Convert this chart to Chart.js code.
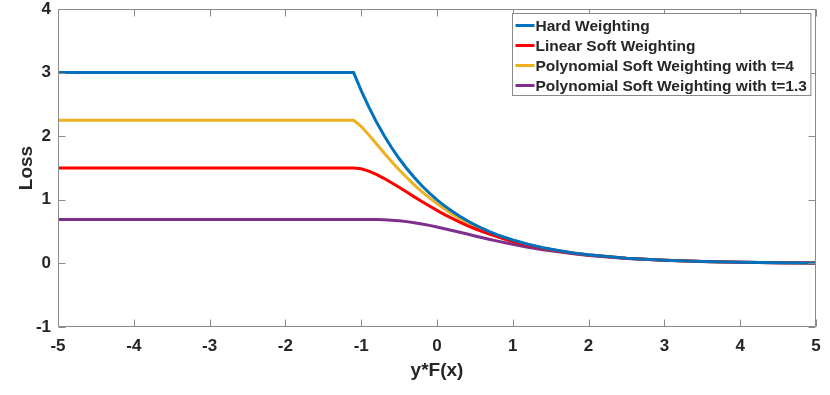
<!DOCTYPE html>
<html>
<head>
<meta charset="utf-8">
<script src="https://cdn.jsdelivr.net/npm/chart.js@4/dist/chart.umd.min.js"></script>
<style>
  html, body { margin: 0; padding: 0; background: #fff; }
</style>
</head>
<body>
<canvas id="chart" width="830" height="395"></canvas>
<script>
// values, x = y*F(x)
const xs = [-5, -1.1, -1.0, -0.9, -0.8, -0.7, -0.6, -0.5, -0.4, -0.3, -0.2, -0.1, 0,
  0.1, 0.2, 0.3, 0.4, 0.5, 0.6, 0.7, 0.8, 0.9, 1.0, 1.2, 1.4, 1.6, 1.8, 2.0, 2.5, 3, 3.5, 4, 4.5, 5]

const hard = [3, 3, 2.718, 2.460, 2.226, 2.014, 1.822, 1.649, 1.492, 1.350, 1.221, 1.105, 1.0,
  0.905, 0.819, 0.741, 0.670, 0.607, 0.549, 0.497, 0.449, 0.407, 0.368, 0.301, 0.247, 0.202, 0.165, 0.135, 0.082, 0.050, 0.030, 0.018, 0.011, 0.007]

const linear = [1.5, 1.5, 1.487, 1.451, 1.400, 1.338, 1.269, 1.196, 1.121, 1.046, 0.973, 0.902, 0.833,
  0.768, 0.707, 0.649, 0.595, 0.545, 0.499, 0.456, 0.416, 0.379, 0.345, 0.286, 0.237, 0.195, 0.161, 0.132, 0.081, 0.049, 0.030, 0.018, 0.011, 0.007]

const poly4 = [2.25, 2.25, 2.154, 2.021, 1.880, 1.740, 1.603, 1.473, 1.351, 1.236, 1.129, 1.031, 0.940,
  0.856, 0.779, 0.708, 0.644, 0.585, 0.531, 0.482, 0.438, 0.397, 0.360, 0.296, 0.243, 0.200, 0.164, 0.134, 0.082, 0.050, 0.030, 0.018, 0.011, 0.007]

const poly13 = [0.692, 0.692, 0.692, 0.692, 0.690, 0.687, 0.680, 0.670, 0.657, 0.640, 0.620, 0.598, 0.573,
  0.546, 0.518, 0.490, 0.461, 0.432, 0.404, 0.376, 0.350, 0.324, 0.300, 0.255, 0.215, 0.181, 0.151, 0.125, 0.078, 0.049, 0.030, 0.018, 0.011, 0.007]

const labels = ['Hard Weighting', 'Linear Soft Weighting',
  'Polynomial Soft Weighting with t=4', 'Polynomial Soft Weighting with t=1.3']
const colors = ['#0072BD', '#FF0000', '#EDB120', '#7E2F8E']

const axisColor = '#8a8a8a'
const textColor = '#262626'
const fontFamily = '"Liberation Sans", Arial, Helvetica, sans-serif'

function points(ys) {
  return xs.map((x, i) => ({ x: x, y: ys[i] }))
}

// box round the plot with inward ticks on all four sides
const frame = {
  id: 'frame',
  afterDatasetsDraw(chart) {
    const ctx = chart.ctx
    const a = chart.chartArea
    const sx = chart.scales.x, sy = chart.scales.y
    const L = Math.round(a.left) + 0.5, R = Math.round(a.right) - 0.5
    const T = Math.round(a.top) + 0.5, B = Math.round(a.bottom) - 0.5
    const len = 7
    ctx.save()
    ctx.strokeStyle = axisColor
    ctx.lineWidth = 1
    ctx.beginPath()
    ctx.rect(L, T, R - L, B - T)
    sx.ticks.forEach(t => {
      const px = Math.round(sx.getPixelForValue(t.value)) + 0.5
      ctx.moveTo(px, B); ctx.lineTo(px, B - len)
      ctx.moveTo(px, T); ctx.lineTo(px, T + len)
    })
    sy.ticks.forEach(t => {
      const py = Math.round(sy.getPixelForValue(t.value)) + 0.5
      ctx.moveTo(L, py); ctx.lineTo(L + len, py)
      ctx.moveTo(R, py); ctx.lineTo(R - len, py)
    })
    ctx.stroke()
    ctx.restore()
  }
}

// legend box inside the top right corner
const boxLegend = {
  id: 'boxLegend',
  afterDraw(chart) {
    const ctx = chart.ctx
    const a = chart.chartArea
    ctx.save()
    ctx.font = 'bold 15.5px ' + fontFamily
    const widths = labels.map(l => ctx.measureText(l).width)
    const rowH = 20
    const w = 24 + Math.max(...widths) + 3
    const h = rowH * labels.length + 2
    const right = a.right - 6
    const left = Math.round(right - w) + 0.5
    const top = Math.round(a.top + 4) + 0.5
    ctx.fillStyle = '#fff'
    ctx.fillRect(left, top, w, h)
    ctx.strokeStyle = axisColor
    ctx.lineWidth = 1
    ctx.strokeRect(left, top, w, h)
    chart.data.datasets.forEach((ds, i) => {
      const cy = top + 12 + i * rowH
      ctx.strokeStyle = ds.borderColor
      ctx.lineWidth = 3
      ctx.beginPath()
      ctx.moveTo(left + 3, cy)
      ctx.lineTo(left + 22, cy)
      ctx.stroke()
      ctx.fillStyle = textColor
      ctx.textBaseline = 'middle'
      ctx.fillText(ds.label, left + 23, cy + 1)
    })
    ctx.restore()
  }
}

const data = {
  datasets: [hard, linear, poly4, poly13].map((ys, i) => ({
    label: labels[i],
    data: points(ys),
    borderColor: colors[i],
    backgroundColor: colors[i],
    borderWidth: 3,
    pointRadius: 0,
    tension: 0,
    fill: false
  }))
}

const config = {
  type: 'line',
  data: data,
  options: {
    responsive: false,
    animation: false,
    layout: { padding: { top: 9, right: 14, left: 0, bottom: 0 } },
    plugins: {
      legend: { display: false },
      tooltip: { enabled: false }
    },
    scales: {
      x: {
        type: 'linear',
        min: -5,
        max: 5,
        grid: { display: false, drawTicks: false },
        border: { display: false },
        ticks: {
          stepSize: 1,
          padding: 9,
          color: textColor,
          font: { family: fontFamily, size: 17, weight: 'bold' }
        },
        title: {
          display: true,
          text: 'y*F(x)',
          color: textColor,
          padding: { top: 0, bottom: 13 },
          font: { family: fontFamily, size: 19, weight: 'bold' }
        },
        afterFit(scale) { scale.height = 68 }
      },
      y: {
        min: -1,
        max: 4,
        grid: { display: false, drawTicks: false },
        border: { display: false },
        ticks: {
          stepSize: 1,
          padding: 7,
          color: textColor,
          font: { family: fontFamily, size: 17, weight: 'bold' }
        },
        title: {
          display: true,
          text: 'Loss',
          color: textColor,
          padding: { top: 15, bottom: 0 },
          font: { family: fontFamily, size: 19, weight: 'bold' }
        },
        afterFit(scale) {
          scale.width = 58
          scale.paddingTop = 0
          scale.paddingBottom = 0
        }
      }
    }
  },
  plugins: [frame, boxLegend]
}

new Chart(document.getElementById('chart'), config)
</script>
</body>
</html>
